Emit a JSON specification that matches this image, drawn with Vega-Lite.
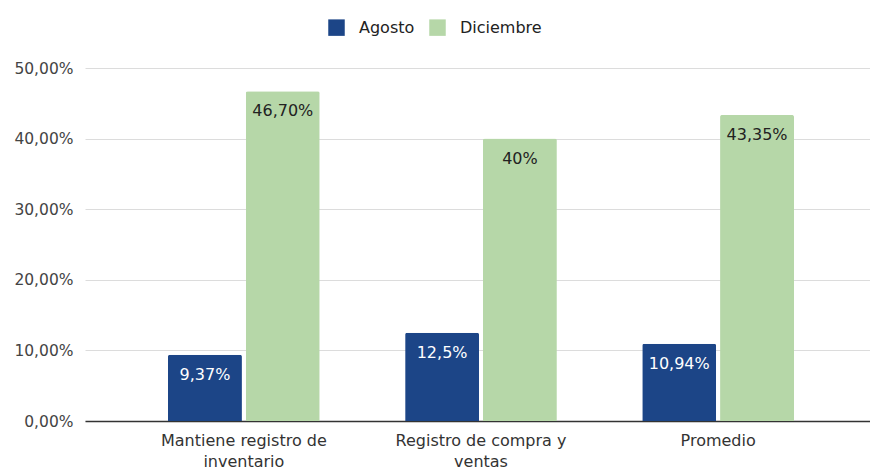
{
  "$schema": "https://vega.github.io/schema/vega-lite/v6.json",
  "autosize": "none",
  "width": 792,
  "height": 353,
  "padding": {"left": 85, "top": 68, "right": 0, "bottom": 47},
  "background": "white",
  "config": {
    "locale": {"number": {"decimal": ",", "thousands": ".", "grouping": [3], "currency": ["", " €"]}},
    "view": {"stroke": null},
    "font": "DejaVu Sans"
  },
  "data": {
    "values": [
      {"categoria": "Mantiene registro de inventario", "mes": "Agosto", "valor": 0.0937, "etiqueta": "9,37%"},
      {"categoria": "Mantiene registro de inventario", "mes": "Diciembre", "valor": 0.467, "etiqueta": "46,70%"},
      {"categoria": "Registro de compra y ventas", "mes": "Agosto", "valor": 0.125, "etiqueta": "12,5%"},
      {"categoria": "Registro de compra y ventas", "mes": "Diciembre", "valor": 0.40, "etiqueta": "40%"},
      {"categoria": "Promedio", "mes": "Agosto", "valor": 0.1094, "etiqueta": "10,94%"},
      {"categoria": "Promedio", "mes": "Diciembre", "valor": 0.4335, "etiqueta": "43,35%"}
    ]
  },
  "encoding": {
    "x": {
      "field": "categoria", "type": "nominal", "sort": null,
      "scale": {"paddingInner": 0.36, "paddingOuter": 0.35},
      "axis": {
        "title": null, "labelAngle": 0, "ticks": false,
        "domainColor": "#333333", "domainWidth": 1.3,
        "labelFont": "DejaVu Sans", "labelFontSize": 16, "labelColor": "#333333",
        "labelPadding": 11, "labelLineHeight": 21, "labelBaseline": "top",
        "labelOverlap": false,
        "labelExpr": "datum.value == 'Mantiene registro de inventario' ? ['Mantiene registro de', 'inventario'] : datum.value == 'Registro de compra y ventas' ? ['Registro de compra y', 'ventas'] : datum.value"
      }
    },
    "xOffset": {"field": "mes", "type": "nominal", "sort": ["Agosto", "Diciembre"], "scale": {"paddingInner": 0.05}},
    "y": {
      "field": "valor", "type": "quantitative",
      "scale": {"domain": [0, 0.5], "nice": false},
      "axis": {
        "title": null, "format": ".2%", "values": [0, 0.1, 0.2, 0.3, 0.4, 0.5],
        "labelOverlap": false,
        "domain": false, "ticks": false, "labelPadding": 12,
        "labelFont": "DejaVu Sans", "labelFontSize": 15.5, "labelColor": "#444444",
        "gridColor": "#dcdcdc", "gridWidth": 1
      }
    }
  },
  "layer": [
    {
      "mark": {"type": "bar", "cornerRadiusTopLeft": 2, "cornerRadiusTopRight": 2},
      "encoding": {
        "color": {
          "field": "mes", "type": "nominal",
          "scale": {"domain": ["Agosto", "Diciembre"], "range": ["#1c4587", "#b6d7a8"]},
          "legend": {
            "title": null, "orient": "none", "direction": "horizontal",
            "legendX": 243, "legendY": -49,
            "symbolType": "square", "symbolSize": 272, "symbolStrokeWidth": 0,
            "labelFont": "DejaVu Sans", "labelFontSize": 16, "labelColor": "#222222",
            "labelOffset": 14, "columnPadding": 14
          }
        }
      }
    },
    {
      "mark": {"type": "text", "baseline": "top", "dy": 12, "font": "DejaVu Sans", "fontSize": 16},
      "encoding": {
        "text": {"field": "etiqueta"},
        "color": {
          "condition": {"test": "datum.mes == 'Agosto'", "value": "#ffffff"},
          "value": "#222222"
        }
      }
    }
  ]
}
